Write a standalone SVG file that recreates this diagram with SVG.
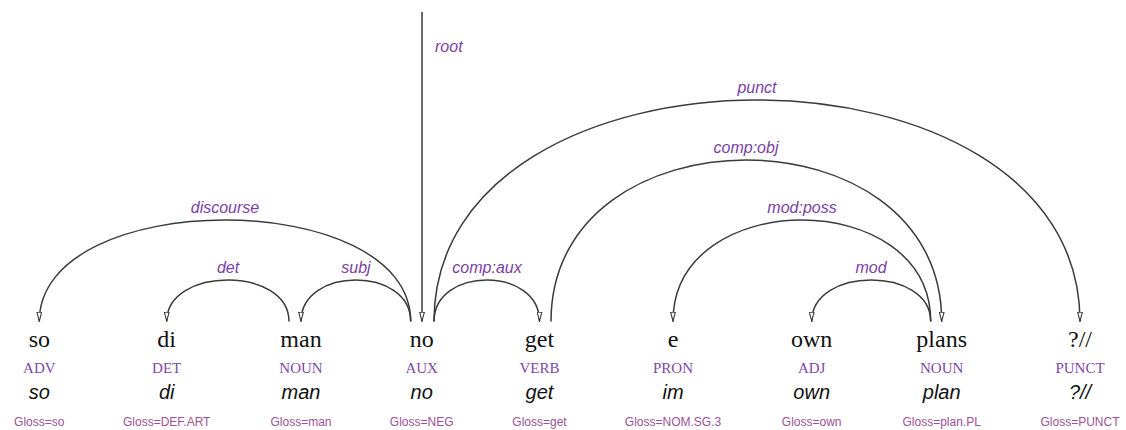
<svg xmlns="http://www.w3.org/2000/svg" width="1126" height="430" viewBox="0 0 1126 430">
<style>
.arc{fill:none;stroke:#3a3a3a;stroke-width:1.5}
.lbl{font-family:"Liberation Sans",Arial,sans-serif;font-style:italic;font-size:16px;fill:#7b3fa6;text-anchor:middle}
.form{font-family:"Liberation Serif","Times New Roman",serif;font-size:24px;fill:#111;text-anchor:middle}
.pos{font-family:"Liberation Serif","Times New Roman",serif;font-size:15px;fill:#7e48a8;text-anchor:middle}
.lem{font-family:"Liberation Sans",Arial,sans-serif;font-style:italic;font-size:20px;fill:#111;text-anchor:middle}
.gl{font-family:"Liberation Sans",Arial,sans-serif;font-size:12px;fill:#9c5197;text-anchor:middle}
</style>
<defs>
<marker id="ah" viewBox="0 0 10 6" refX="10" refY="3" markerWidth="10" markerHeight="6" markerUnits="userSpaceOnUse" orient="auto">
<path d="M0.6,0.6 L9.6,3 L0.6,5.4 z" fill="#fff" stroke="#3a3a3a" stroke-width="1.1"/>
</marker>
</defs>
<g id="connectors">
<g id="e-root"><path class="arc" d="M422,12 L422,321.5" marker-end="url(#ah)"/><text class="lbl" x="435" y="52" style="text-anchor:start">root</text></g>
<g id="e-discourse"><path class="arc" d="M410.7,321.5 C410.7,186.2 39.3,186.2 39.3,321.5" marker-end="url(#ah)"/><text class="lbl" x="225" y="213">discourse</text></g>
<g id="e-det"><path class="arc" d="M289,321.5 C289,266.2 166.7,266.2 166.7,321.5" marker-end="url(#ah)"/><text class="lbl" x="228" y="273">det</text></g>
<g id="e-subj"><path class="arc" d="M410.7,321.5 C410.7,266.2 301,266.2 301,321.5" marker-end="url(#ah)"/><text class="lbl" x="356" y="273">subj</text></g>
<g id="e-compaux"><path class="arc" d="M434,321.5 C434,266.2 539.5,266.2 539.5,321.5" marker-end="url(#ah)"/><text class="lbl" x="487" y="273">comp:aux</text></g>
<g id="e-punct"><path class="arc" d="M434,321.5 C434,26.2 1080,26.2 1080,321.5" marker-end="url(#ah)"/><text class="lbl" x="757" y="93">punct</text></g>
<g id="e-compobj"><path class="arc" d="M551,321.5 C551,106.2 941.7,106.2 941.7,321.5" marker-end="url(#ah)"/><text class="lbl" x="746" y="153">comp:obj</text></g>
<g id="e-modposs"><path class="arc" d="M930.7,321.5 C930.7,186.2 673,186.2 673,321.5" marker-end="url(#ah)"/><text class="lbl" x="802" y="213">mod:poss</text></g>
<g id="e-mod"><path class="arc" d="M930.7,321.5 C930.7,266.2 811.7,266.2 811.7,321.5" marker-end="url(#ah)"/><text class="lbl" x="871" y="273">mod</text></g>
</g>
<g id="n-so"><text class="form" x="39.3" y="347">so</text><text class="pos" x="39.3" y="373">ADV</text><text class="lem" x="39.3" y="399">so</text><text class="gl" x="39.3" y="426">Gloss=so</text></g>
<g id="n-di"><text class="form" x="166.7" y="347">di</text><text class="pos" x="166.7" y="373">DET</text><text class="lem" x="166.7" y="399">di</text><text class="gl" x="166.7" y="426">Gloss=DEF.ART</text></g>
<g id="n-man"><text class="form" x="301" y="347">man</text><text class="pos" x="301" y="373">NOUN</text><text class="lem" x="301" y="399">man</text><text class="gl" x="301" y="426">Gloss=man</text></g>
<g id="n-no"><text class="form" x="421.7" y="347">no</text><text class="pos" x="421.7" y="373">AUX</text><text class="lem" x="421.7" y="399">no</text><text class="gl" x="421.7" y="426">Gloss=NEG</text></g>
<g id="n-get"><text class="form" x="539.5" y="347">get</text><text class="pos" x="539.5" y="373">VERB</text><text class="lem" x="539.5" y="399">get</text><text class="gl" x="539.5" y="426">Gloss=get</text></g>
<g id="n-e"><text class="form" x="673" y="347">e</text><text class="pos" x="673" y="373">PRON</text><text class="lem" x="673" y="399">im</text><text class="gl" x="673" y="426">Gloss=NOM.SG.3</text></g>
<g id="n-own"><text class="form" x="811.7" y="347">own</text><text class="pos" x="811.7" y="373">ADJ</text><text class="lem" x="811.7" y="399">own</text><text class="gl" x="811.7" y="426">Gloss=own</text></g>
<g id="n-plans"><text class="form" x="941.7" y="347">plans</text><text class="pos" x="941.7" y="373">NOUN</text><text class="lem" x="941.7" y="399">plan</text><text class="gl" x="941.7" y="426">Gloss=plan.PL</text></g>
<g id="n-punct"><text class="form" x="1080" y="347">?//</text><text class="pos" x="1080" y="373">PUNCT</text><text class="lem" x="1080" y="399">?//</text><text class="gl" x="1080" y="426">Gloss=PUNCT</text></g>
</svg>
